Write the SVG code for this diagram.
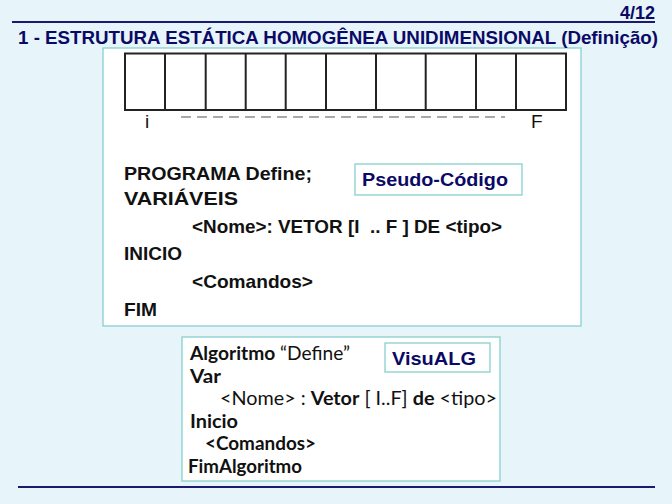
<svg xmlns="http://www.w3.org/2000/svg" width="672" height="504" viewBox="0 0 672 504">
<style>
.bg{fill:#E7F4FA}
.rule{stroke:#1A1A70;stroke-width:2}
.title{font-family:"Liberation Sans",Arial,sans-serif;font-weight:bold;fill:#0A0A66}
.box{fill:#FFFFFF;stroke:#86CFCF;stroke-width:1.3}
.cell{fill:#FFFFFF;stroke:#222;stroke-width:2}
.code{font-family:"Liberation Sans",Arial,sans-serif;font-weight:bold;font-size:18.5px;fill:#111}
.lbl{font-family:"Liberation Sans",Arial,sans-serif;font-weight:bold;font-size:18px;fill:#0A0A66}
.calib{font-family:Lato,"Open Sans",sans-serif;font-size:19px;fill:#111}
.b{font-weight:bold}
.idx{font-family:"Liberation Sans",Arial,sans-serif;font-size:19px;fill:#111}
</style>
<rect class="bg" x="0" y="0" width="672" height="504"/>

<g id="pseudo-panel">
<rect class="box" x="103" y="48" width="478" height="278"/>
<g id="array">
<rect class="cell" x="125" y="53.5" width="441" height="56.5"/>
<path d="M165 53.5V110M205.7 53.5V110M245.7 53.5V110M285.7 53.5V110M326 53.5V110M376 53.5V110M425.7 53.5V110M476 53.5V110M516 53.5V110" stroke="#222" stroke-width="2" fill="none"/>
<line x1="181" y1="117" x2="505" y2="117" stroke="#8A8A8A" stroke-width="1.3" stroke-dasharray="10,6"/>
<text class="idx" x="145" y="128">i</text>
<text class="idx" x="531" y="128">F</text>
</g>
<g id="pseudo-code">
<text class="code" x="124" y="180" textLength="188" lengthAdjust="spacingAndGlyphs">PROGRAMA  Define;</text>
<text class="code" x="124" y="205" textLength="114" lengthAdjust="spacingAndGlyphs">VARIÁVEIS</text>
<text class="code" x="192" y="233" textLength="310" lengthAdjust="spacingAndGlyphs" xml:space="preserve">&lt;Nome&gt;: VETOR [I  .. F ] DE &lt;tipo&gt;</text>
<text class="code" x="124" y="260" textLength="58" lengthAdjust="spacingAndGlyphs">INICIO</text>
<text class="code" x="192" y="288" textLength="121" lengthAdjust="spacingAndGlyphs">&lt;Comandos&gt;</text>
<text class="code" x="124" y="316" textLength="33" lengthAdjust="spacingAndGlyphs">FIM</text>
</g>
<g id="pseudo-label">
<rect class="box" x="355" y="164" width="167" height="31"/>
<text class="lbl" x="362" y="186" textLength="146" lengthAdjust="spacingAndGlyphs">Pseudo-Código</text>
</g>
</g>

<g id="visualg-panel">
<rect class="box" x="182" y="337" width="318" height="144"/>
<g id="visualg-code">
<text class="calib" x="190" y="360" textLength="160" lengthAdjust="spacingAndGlyphs"><tspan class="b">Algoritmo</tspan> “Define”</text>
<text class="calib b" x="190" y="383" textLength="31" lengthAdjust="spacingAndGlyphs">Var</text>
<text class="calib" x="220" y="405" textLength="277" lengthAdjust="spacingAndGlyphs">&lt;Nome&gt; : <tspan class="b">Vetor</tspan> [ I..F] <tspan class="b">de</tspan> &lt;tipo&gt;</text>
<text class="calib b" x="190" y="428" textLength="48" lengthAdjust="spacingAndGlyphs">Inicio</text>
<text class="calib b" x="205" y="450" textLength="111" lengthAdjust="spacingAndGlyphs">&lt;Comandos&gt;</text>
<text class="calib b" x="188" y="473" textLength="114" lengthAdjust="spacingAndGlyphs">FimAlgoritmo</text>
</g>
<g id="visualg-label">
<rect class="box" x="385" y="343" width="105" height="29"/>
<text class="lbl" x="392" y="365" textLength="84" lengthAdjust="spacingAndGlyphs">VisuALG</text>
</g>
</g>

<g id="header">
<line class="rule" x1="12" y1="22" x2="655" y2="22"/>
<text class="title" x="655" y="19" font-size="18" text-anchor="end">4/12</text>
<text class="title" x="18" y="44" font-size="19" textLength="640" lengthAdjust="spacingAndGlyphs">1 - ESTRUTURA ESTÁTICA HOMOGÊNEA UNIDIMENSIONAL (Definição)</text>
</g>

<g id="footer">
<line class="rule" x1="18" y1="487" x2="655" y2="487"/>
</g>
</svg>
